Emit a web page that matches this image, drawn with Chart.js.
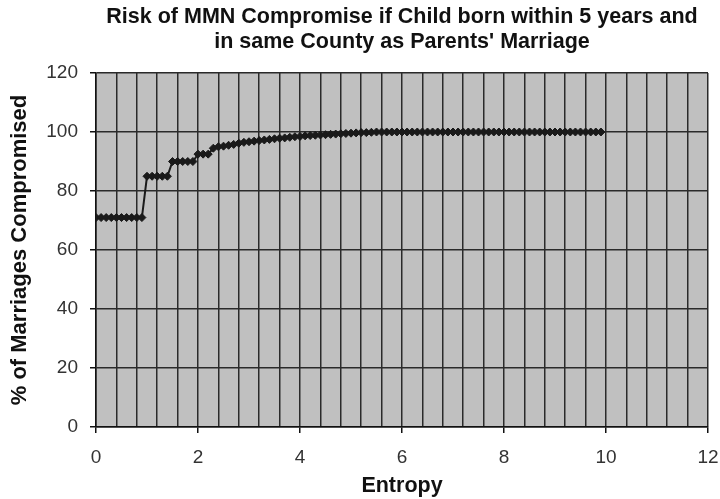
<!DOCTYPE html>
<html>
<head>
<meta charset="utf-8">
<script src="https://cdn.jsdelivr.net/npm/chart.js@4/dist/chart.umd.min.js"></script>
<style>
  html, body { margin: 0; padding: 0; background: #fff; }
  #wrap { width: 720px; height: 499px; }
</style>
</head>
<body>
<div id="wrap"><canvas id="myChart"></canvas></div>
<script>
// entropy values (x) and % of marriages compromised (y)
const entropy = [
  0.0, 0.1, 0.2, 0.3, 0.4, 0.5, 0.6, 0.7, 0.8, 0.9,
  1.0, 1.1, 1.2, 1.3, 1.4, 1.5, 1.6, 1.7, 1.8, 1.9,
  2.0, 2.1, 2.2, 2.3, 2.4, 2.5, 2.6, 2.7, 2.8, 2.9,
  3.0, 3.1, 3.2, 3.3, 3.4, 3.5, 3.6, 3.7, 3.8, 3.9,
  4.0, 4.1, 4.2, 4.3, 4.4, 4.5, 4.6, 4.7, 4.8, 4.9,
  5.0, 5.1, 5.2, 5.3, 5.4, 5.5, 5.6, 5.7, 5.8, 5.9,
  6.0, 6.1, 6.2, 6.3, 6.4, 6.5, 6.6, 6.7, 6.8, 6.9,
  7.0, 7.1, 7.2, 7.3, 7.4, 7.5, 7.6, 7.7, 7.8, 7.9,
  8.0, 8.1, 8.2, 8.3, 8.4, 8.5, 8.6, 8.7, 8.8, 8.9,
  9.0, 9.1, 9.2, 9.3, 9.4, 9.5, 9.6, 9.7, 9.8, 9.9
];
const compromised = [
  71, 71, 71, 71, 71, 71, 71, 71, 71, 71,
  85, 85, 85, 85, 85, 90, 90, 90, 90, 90,
  92.5, 92.5, 92.5, 94.5, 95, 95.2, 95.5, 95.8, 96.2, 96.5,
  96.7, 96.9, 97.1, 97.3, 97.5, 97.7, 97.9, 98.0, 98.2, 98.4,
  98.5, 98.7, 98.8, 98.9, 99.0, 99.1, 99.2, 99.3, 99.4, 99.5,
  99.6, 99.7, 99.8, 99.8, 99.9, 100, 100, 100, 100, 100,
  100, 100, 100, 100, 100, 100, 100, 100, 100, 100,
  100, 100, 100, 100, 100, 100, 100, 100, 100, 100,
  100, 100, 100, 100, 100, 100, 100, 100, 100, 100,
  100, 100, 100, 100, 100, 100, 100, 100, 100, 100
];
const titleLines = ["Risk of MMN Compromise if Child born within 5 years and", "in same County as Parents' Marriage"];

let points = [];
for (let i = 0; i < entropy.length; i++) {
  points.push({ x: entropy[i], y: compromised[i] });
}

const fam = 'Liberation Sans, Arial, sans-serif';

// grey plot background like the old excel charts
const plotBg = {
  id: 'plotBg',
  beforeDraw(chart) {
    const a = chart.chartArea;
    const c = chart.ctx;
    c.save();
    c.fillStyle = '#c0c0c0';
    c.fillRect(a.left, a.top, a.right - a.left, a.bottom - a.top);
    c.restore();
  }
};

var ctx = document.getElementById('myChart').getContext('2d');
var myChart = new Chart(ctx, {
  type: 'line',
  data: {
    datasets: [{
      data: points,
      borderColor: '#1a1a1a',
      backgroundColor: '#1a1a1a',
      borderWidth: 2,
      pointStyle: 'rectRot',
      pointRadius: 4,
      pointBorderWidth: 1,
      fill: false,
      tension: 0
    }]
  },
  options: {
    responsive: true,
    maintainAspectRatio: false,
    animation: false,
    layout: { padding: { top: 4.5, right: 12, bottom: 0, left: 4 } },
    plugins: {
      legend: { display: false },
      tooltip: { enabled: false },
      title: {
        display: true,
        text: titleLines,
        fullSize: false,
        color: '#111',
        font: { family: fam, size: 21.5, weight: 'bold', lineHeight: 1.163 },
        padding: { top: 0, bottom: 18.5 }
      }
    },
    scales: {
      x: {
        type: 'linear',
        min: 0,
        max: 12,
        afterFit: (s) => { s.height = 72; s.paddingLeft = 0; s.paddingRight = 0; },
        border: { color: '#111', width: 1.5 },
        grid: {
          color: '#2a2a2a',
          lineWidth: 1.5,
          tickLength: 6,
          tickColor: (c) => (c.index % 5 === 0 ? '#111' : 'rgba(0,0,0,0)')
        },
        ticks: {
          stepSize: 0.4,
          autoSkip: false,
          maxRotation: 0,
          color: '#333',
          padding: 13.6,
          font: { family: fam, size: 19 },
          callback: (v, i) => (i % 5 === 0 ? Math.round(v).toString() : '')
        },
        title: {
          display: true,
          text: 'Entropy',
          color: '#111',
          font: { family: fam, size: 21.5, weight: 'bold' },
          padding: { top: 5, bottom: 0 }
        }
      },
      y: {
        min: 0,
        max: 120,
        afterFit: (s) => { s.width = 92; s.paddingTop = 0; s.paddingBottom = 0; },
        border: { color: '#111', width: 1.5 },
        grid: { color: '#2a2a2a', lineWidth: 1.5, tickLength: 6, tickColor: '#111' },
        ticks: {
          stepSize: 20,
          color: '#333',
          padding: 12,
          font: { family: fam, size: 19 }
        },
        title: {
          display: true,
          text: '% of Marriages Compromised',
          color: '#111',
          font: { family: fam, size: 22, weight: 'bold' },
          padding: { top: 3, bottom: 13 }
        }
      }
    }
  },
  plugins: [plotBg]
});
</script>
</body>
</html>
